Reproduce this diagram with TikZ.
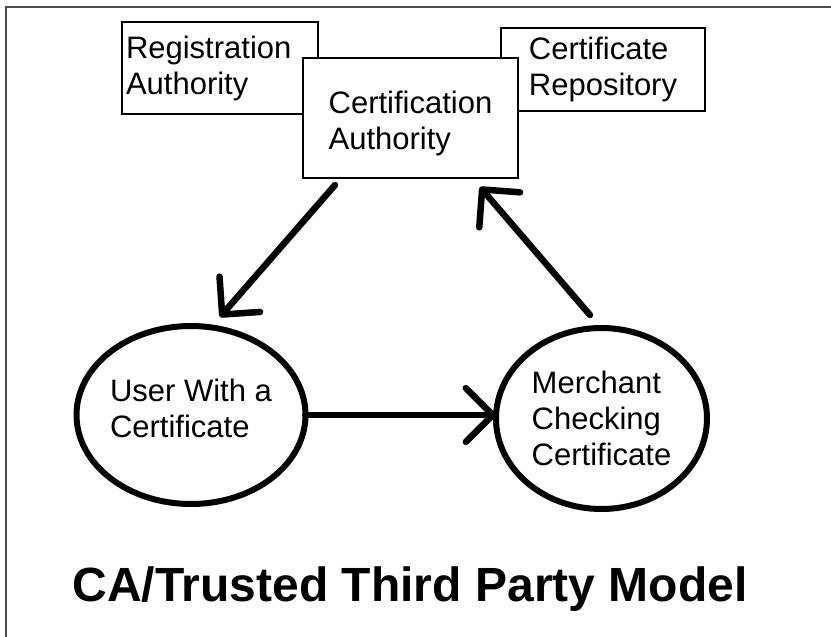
\documentclass[tikz,border=0pt]{standalone}
\usepackage{fontspec}
\setmainfont{Liberation Sans}
\usetikzlibrary{shapes.geometric,arrows.meta}

\begin{document}
\begin{tikzpicture}[x=1pt,y=-1pt,
  box/.style={draw,line width=1.3pt,fill=white,inner sep=0pt,outer sep=0pt,align=left,font=\fontsize{31}{36}\selectfont},
  oval/.style={draw,ellipse,line width=6pt,inner sep=0pt,outer sep=0pt,align=left,font=\fontsize{31}{36}\selectfont},
  arr/.style={line width=6.5pt,line cap=round,-{Straight Barb[angle=90:38pt,round]}}]
\useasboundingbox (0,0) rectangle (831,637);
\draw[line width=2pt,black!70] (6,637) -- (6,7) -- (831,7);

\node[box,minimum width=196pt,minimum height=92pt,text width=188pt] (ra) at (220,68) {Registration\\Authority};
\node[box,minimum width=204pt,minimum height=83pt] (cr) at (603,69.5) {Certificate\\Repository};
\node[box,minimum width=215pt,minimum height=120pt,text height=69pt] (ca) at (410.5,118) {Certification\\Authority};

\node[oval,minimum width=222pt,minimum height=178pt,text depth=14pt] (user) at (191,415) {User With a\\Certificate};
\node[oval,minimum width=211pt,minimum height=181pt] (merchant) at (601.5,418.5) {Merchant\\Checking\\Certificate};

\draw[arr] ([shift={(32,7)}]ca.south west) -- ([shift={(29,-9)}]user.north);
\draw[arr] ([shift={(-11.5,-13)}]merchant.north) -- ([shift={(-38,9)}]ca.south east);
\draw[arr] (user.east) -- (user.east -| merchant.west);

\node[font=\fontsize{48}{56}\selectfont\bfseries,anchor=base] (title) at (410,601) {CA/Trusted Third Party Model};
\end{tikzpicture}
\end{document}
